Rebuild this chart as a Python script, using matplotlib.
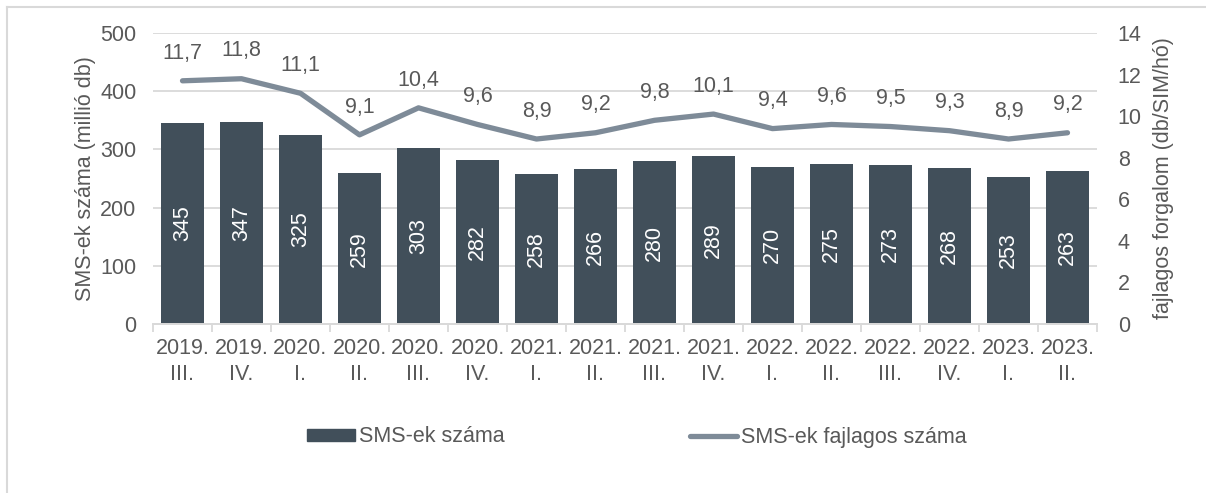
import numpy as np
import matplotlib.pyplot as plt
from matplotlib.lines import Line2D

# ====================== ADATOK ======================
QUARTERS = ["2019.\nIII.", "2019.\nIV.", "2020.\nI.", "2020.\nII.", "2020.\nIII.", "2020.\nIV.",
            "2021.\nI.", "2021.\nII.", "2021.\nIII.", "2021.\nIV.", "2022.\nI.", "2022.\nII.",
            "2022.\nIII.", "2022.\nIV.", "2023.\nI.", "2023.\nII."]
SMS_COUNT = [345, 347, 325, 259, 303, 282, 258, 266, 280, 289, 270, 275, 273, 268, 253, 263]
SMS_PER_SIM = [11.7, 11.8, 11.1, 9.1, 10.4, 9.6, 8.9, 9.2, 9.8, 10.1, 9.4, 9.6, 9.5, 9.3, 8.9, 9.2]

BAR_COLOR = '#414f5a'
LINE_COLOR = '#7e8b98'
TEXT_COLOR = '#595959'
GRID_COLOR = '#d9d9d9'
FS = 15.5

plt.rcParams['font.family'] = ['Liberation Sans', 'DejaVu Sans']

fig = plt.figure(figsize=(12.06, 4.93), dpi=100)
ax = fig.add_axes([153 / 1206, 1 - 324 / 493, (1097 - 153) / 1206, (324 - 33) / 493])
ax2 = ax.twinx()

x = np.arange(len(QUARTERS))

# oszlopok
bars = ax.bar(x, SMS_COUNT, width=0.72, color=BAR_COLOR, zorder=2)
for b, v in zip(bars, SMS_COUNT):
    ax.text(b.get_x() + b.get_width() / 2, v / 2, str(v), rotation=90,
            ha='center', va='center', color='white', fontsize=FS)

ax.set_ylim(0, 500)
ax.set_yticks(range(0, 501, 100))
ax.set_xlim(-0.5, len(QUARTERS) - 0.5)
ax.grid(axis='y', color=GRID_COLOR, lw=1.3, zorder=0)
ax.set_axisbelow(True)

# vonal
ax2.plot(x, SMS_PER_SIM, color=LINE_COLOR, lw=3.8, solid_capstyle='round', zorder=3)
for xi, v in zip(x, SMS_PER_SIM):
    ax2.annotate(f"{v:.1f}".replace('.', ','), (xi, v), xytext=(0, 20),
                 textcoords='offset points', ha='center', va='center',
                 color=TEXT_COLOR, fontsize=FS)
ax2.set_ylim(0, 14)
ax2.set_yticks(range(0, 15, 2))

# tengelyek
for a in (ax, ax2):
    for s in ('top', 'left', 'right'):
        a.spines[s].set_visible(False)
    a.spines['bottom'].set_color(GRID_COLOR)
    a.spines['bottom'].set_linewidth(1.3)

ax.set_xticks(x)
ax.set_xticklabels(QUARTERS, linespacing=1.3)
ax.set_xticks(np.arange(-0.5, len(QUARTERS)), minor=True)
ax.tick_params(axis='x', which='major', length=0, pad=10, labelsize=FS, colors=TEXT_COLOR)
ax.tick_params(axis='x', which='minor', length=6, color=GRID_COLOR, width=1.3)
ax.tick_params(axis='y', length=0, pad=12, labelsize=FS, colors=TEXT_COLOR)
ax2.tick_params(axis='y', length=0, pad=15, labelsize=FS, colors=TEXT_COLOR)

ax.set_ylabel("SMS-ek száma (millió db)", fontsize=FS, color=TEXT_COLOR, labelpad=3)
ax2.set_ylabel("fajlagos forgalom (db/SIM/hó)", fontsize=FS, color=TEXT_COLOR, labelpad=8)

# jelmagyarázat
handles = [plt.Rectangle((0, 0), 1, 1, color=BAR_COLOR),
           Line2D([0], [0], color=LINE_COLOR, lw=3.8, solid_capstyle='round')]
fig.legend(handles, ["SMS-ek száma", "SMS-ek fajlagos száma"], ncol=2, frameon=False,
           loc='center', bbox_to_anchor=(637 / 1206, 1 - 437 / 493),
           fontsize=FS, labelcolor=TEXT_COLOR, handlelength=2.2, handleheight=0.5,
           handletextpad=0.2, columnspacing=8.6)

# keret
fig.add_artist(Line2D([7 / 1206, 7 / 1206], [0, 1 - 7 / 493], color='#d9d9d9', lw=1.5))
fig.add_artist(Line2D([7 / 1206, 1], [1 - 7 / 493, 1 - 7 / 493], color='#d9d9d9', lw=1.5))

fig.savefig('out.png', dpi=100, facecolor='white')
